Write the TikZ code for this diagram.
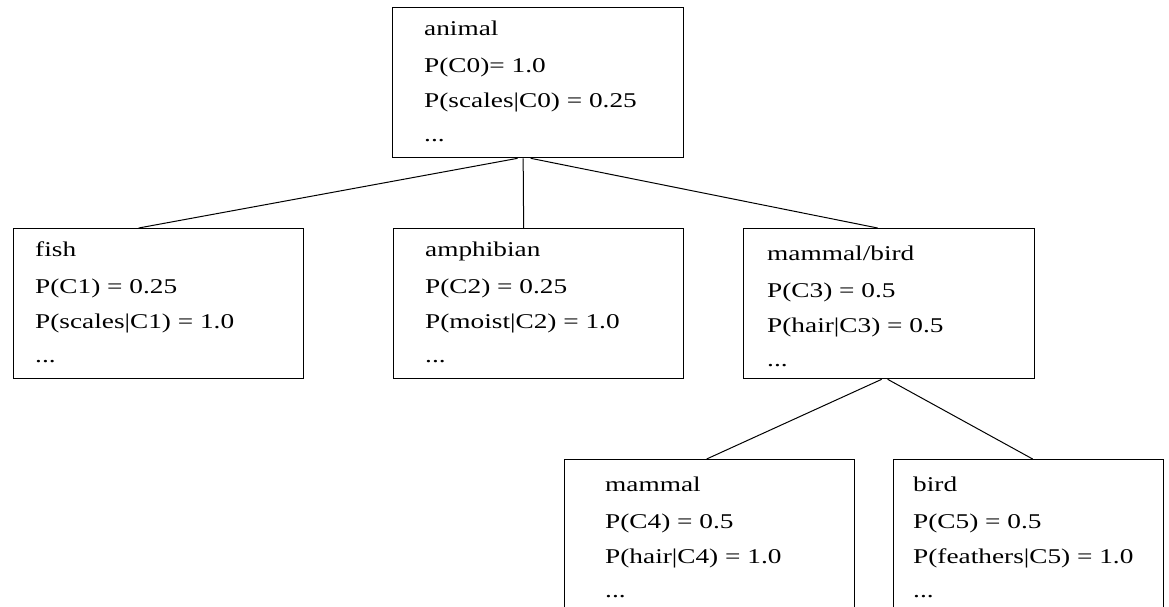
\documentclass[tikz,border=0pt]{standalone}
\usepackage{fontspec}
\setmainfont{Liberation Serif}[FakeStretch=1.3]
\newcommand\cobtext[6]{%
  \node[txt] (#1-1) at (#2,#3) {#4};
  \node[txt] (#1-2) at (#2,#3+37) {#5};
  \node[txt] (#1-3) at (#2,#3+72) {#6};
  \node[txt] (#1-4) at (#2,#3+106) {...};
}
\begin{document}
\begin{tikzpicture}[x=1pt,y=-1pt,
  cbox/.style={draw,line width=1.3pt,rectangle,inner sep=0pt,anchor=north west},
  txt/.style={anchor=base west,inner sep=0pt,font=\fontsize{21}{21}\selectfont},
  link/.style={line width=1pt}]
\useasboundingbox (0,0) rectangle (1169,606);
\clip (0,0) rectangle (1169,606);
\fill[white] (0,0) rectangle (1169,606);
% boxes
\node[cbox,minimum width=291pt,minimum height=150pt] (animal) at (392,7) {};
\node[cbox,minimum width=290pt,minimum height=150pt] (fish) at (13,228) {};
\node[cbox,minimum width=290pt,minimum height=150pt] (amph) at (393,228) {};
\node[cbox,minimum width=291pt,minimum height=150pt] (mb) at (743,228) {};
\node[cbox,minimum width=290pt,minimum height=160pt] (mammal) at (564,459) {};
\node[cbox,minimum width=270pt,minimum height=160pt] (bird) at (893,459) {};
% texts
\cobtext{ta}{424}{35}{animal}{P(C0)= 1.0}{P(scales|C0) = 0.25}
\cobtext{tf}{35}{256}{fish}{P(C1) = 0.25}{P(scales|C1) = 1.0}
\cobtext{tp}{425}{256}{amphibian}{P(C2) = 0.25}{P(moist|C2) = 1.0}
\cobtext{tm}{767}{260}{mammal/bird}{P(C3) = 0.5}{P(hair|C3) = 0.5}
\cobtext{tn}{605}{491}{mammal}{P(C4) = 0.5}{P(hair|C4) = 1.0}
\cobtext{tb}{913}{491}{bird}{P(C5) = 0.5}{P(feathers|C5) = 1.0}
% connectors
\draw[link] ([xshift=-20.5pt]animal.south) -- ([xshift=-20pt]fish.north);
\draw[link] ([xshift=-15pt]animal.south) -- ([xshift=-15pt]amph.north);
\draw[link] ([xshift=-7.5pt]animal.south) -- ([xshift=-11.5pt]mb.north);
\draw[link] ([xshift=-7.5pt]mb.south) -- ([xshift=-3pt]mammal.north);
\draw[link] ([xshift=-1.5pt]mb.south) -- ([xshift=4pt]bird.north);
\end{tikzpicture}
\end{document}
